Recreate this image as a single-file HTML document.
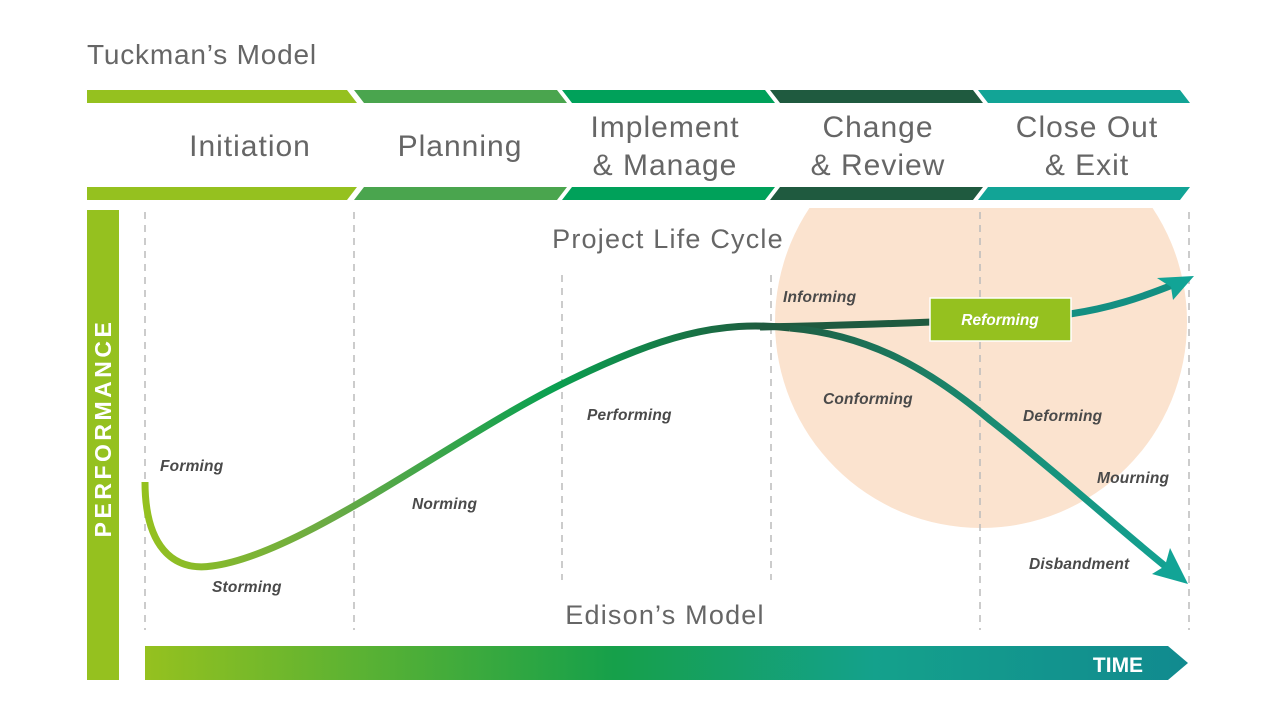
<!DOCTYPE html>
<html><head><meta charset="utf-8"><style>
html,body{margin:0;padding:0;background:#fff;}
svg{display:block;font-family:"Liberation Sans",sans-serif;}
.h{font-size:30px;fill:#666;letter-spacing:1px;}
.l{font-size:15.5px;font-style:italic;font-weight:bold;fill:#4a4a4a;letter-spacing:0.2px;}
</style></head><body>
<svg width="1280" height="720" viewBox="0 0 1280 720">
<defs>
<linearGradient id="tg" x1="0" x2="1"><stop offset="0" stop-color="#95c11f"/><stop offset="0.45" stop-color="#16a04a"/><stop offset="0.7" stop-color="#14a18c"/><stop offset="1" stop-color="#118a8f"/></linearGradient>
<linearGradient id="cg" gradientUnits="userSpaceOnUse" x1="145" y1="0" x2="770" y2="0"><stop offset="0" stop-color="#95c11f"/><stop offset="0.3" stop-color="#6aaa45"/><stop offset="0.65" stop-color="#0aa050"/><stop offset="1" stop-color="#1f5a3f"/></linearGradient>
<linearGradient id="dg" gradientUnits="userSpaceOnUse" x1="770" y1="0" x2="1190" y2="0"><stop offset="0" stop-color="#1f5a3f"/><stop offset="0.5" stop-color="#1a8a70"/><stop offset="1" stop-color="#12a496"/></linearGradient>
<clipPath id="cc"><rect x="0" y="208" width="1280" height="500"/></clipPath>
</defs>
<text x="87" y="64" style="font-size:28px;fill:#666;letter-spacing:0.8px">Tuckman’s Model</text>
<g>
<polygon points="87,90 347,90 357,103 87,103" fill="#95c11f"/>
<polygon points="354,90 557,90 567,103 364,103" fill="#4aa54e"/>
<polygon points="562,90 765,90 775,103 572,103" fill="#00a15a"/>
<polygon points="770,90 973,90 983,103 780,103" fill="#1f5a3f"/>
<polygon points="978,90 1180,90 1190,103 988,103" fill="#12a496"/>
<polygon points="87,200 347,200 357,187 87,187" fill="#95c11f"/>
<polygon points="354,200 557,200 567,187 364,187" fill="#4aa54e"/>
<polygon points="562,200 765,200 775,187 572,187" fill="#00a15a"/>
<polygon points="770,200 973,200 983,187 780,187" fill="#1f5a3f"/>
<polygon points="978,200 1180,200 1190,187 988,187" fill="#12a496"/>
</g>
<text class="h" x="250" y="156" text-anchor="middle">Initiation</text>
<text class="h" x="460" y="156" text-anchor="middle">Planning</text>
<text class="h" x="665" y="137" text-anchor="middle">Implement</text>
<text class="h" x="665" y="175" text-anchor="middle">&amp; Manage</text>
<text class="h" x="878" y="137" text-anchor="middle">Change</text>
<text class="h" x="878" y="175" text-anchor="middle">&amp; Review</text>
<text class="h" x="1087" y="137" text-anchor="middle">Close Out</text>
<text class="h" x="1087" y="175" text-anchor="middle">&amp; Exit</text>
<circle cx="981" cy="322" r="206" fill="#fbe3cf" clip-path="url(#cc)"/>
<g stroke="#bbb" stroke-width="1.5" stroke-dasharray="7,6">
<line x1="145" y1="212" x2="145" y2="630"/>
<line x1="354" y1="212" x2="354" y2="630"/>
<line x1="562" y1="275" x2="562" y2="580"/>
<line x1="771" y1="275" x2="771" y2="580"/>
<line x1="980" y1="212" x2="980" y2="630"/>
<line x1="1189" y1="212" x2="1189" y2="630"/>
</g>
<rect x="87" y="210" width="32" height="470" fill="#95c11f"/>
<text transform="translate(111,428) rotate(-90)" text-anchor="middle" style="font-size:23px;font-weight:bold;fill:#fff;letter-spacing:3.5px">PERFORMANCE</text>
<polygon points="145,646 1168,646 1188,663 1168,680 145,680" fill="url(#tg)"/>
<text x="1118" y="672" text-anchor="middle" style="font-size:21px;font-weight:bold;fill:#fff">TIME</text>
<text x="668" y="248" text-anchor="middle" style="font-size:27px;fill:#666;letter-spacing:1.2px">Project Life Cycle</text>
<text x="665" y="624" text-anchor="middle" style="font-size:27px;fill:#666;letter-spacing:1.2px">Edison’s Model</text>
<path d="M145,482 C145,545 172,572 212,566 C300,555 450,440 560,385 C660,335 720,320 790,328" fill="none" stroke="url(#cg)" stroke-width="7"/>
<path d="M760,327 C820,326 880,324 932,322" fill="none" stroke="#1f5a3f" stroke-width="7"/>
<path d="M790,328 C870,335 930,370 990,420 C1060,475 1120,530 1170,570" fill="none" stroke="url(#dg)" stroke-width="7"/>
<polygon points="1188,584 1152,574 1165,566 1170,548" fill="#12a496"/>
<path d="M1070,314 C1110,308 1140,298 1175,284" fill="none" stroke="#138f82" stroke-width="7"/>
<polygon points="1194,276 1173,300 1171,287 1157,278" fill="#12a496"/>
<rect x="930" y="298" width="141" height="43" fill="#95c11f" stroke="#fff" stroke-width="1.5"/>
<text x="1000" y="325" text-anchor="middle" style="font-size:15.5px;font-style:italic;font-weight:bold;fill:#fff">Reforming</text>
<text class="l" x="160" y="471">Forming</text>
<text class="l" x="212" y="592">Storming</text>
<text class="l" x="412" y="509">Norming</text>
<text class="l" x="587" y="420">Performing</text>
<text class="l" x="783" y="302">Informing</text>
<text class="l" x="823" y="404">Conforming</text>
<text class="l" x="1023" y="421">Deforming</text>
<text class="l" x="1097" y="483">Mourning</text>
<text class="l" x="1029" y="569">Disbandment</text>
</svg>
</body></html>
